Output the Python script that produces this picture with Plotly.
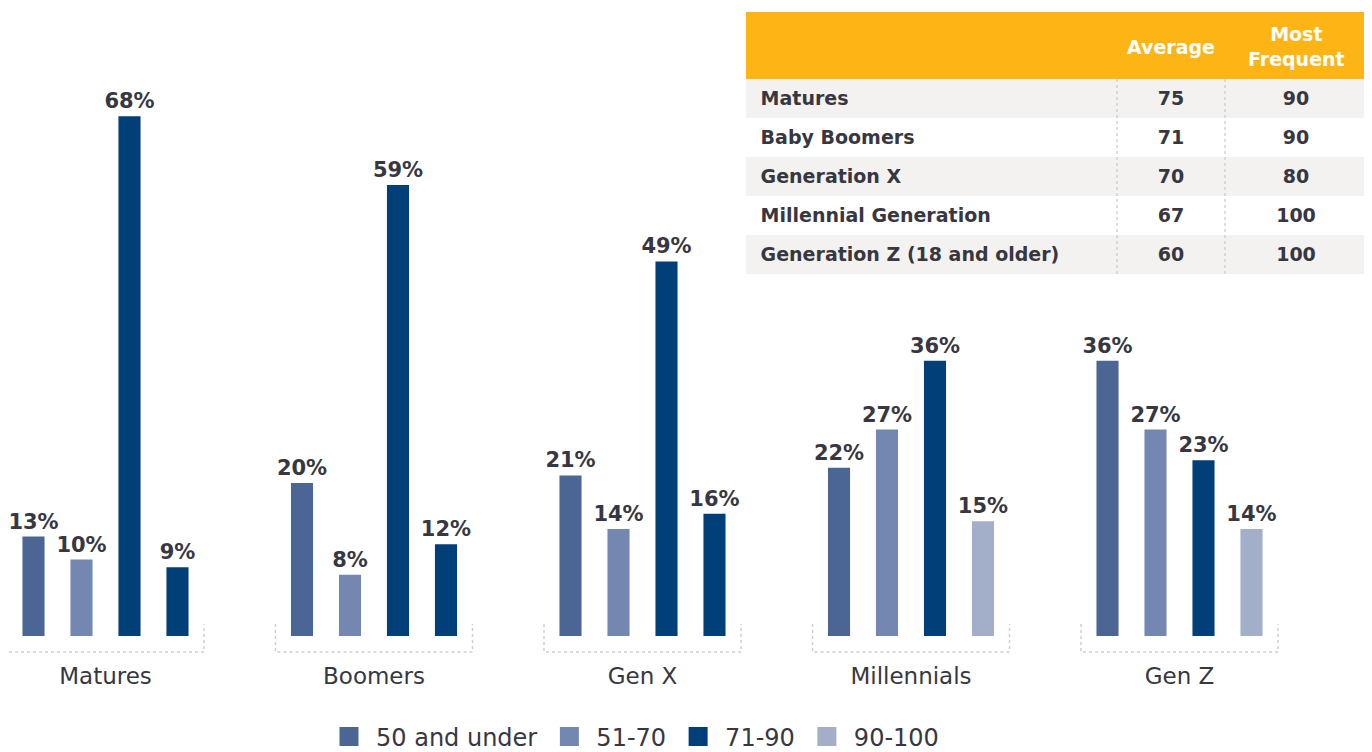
import plotly.graph_objects as go

# ---------------- data ----------------
groups = ["Matures", "Boomers", "Gen X", "Millennials", "Gen Z"]
series = ["50 and under", "51-70", "71-90", "90-100"]
v_50_under = [13, 20, 21, 22, 36]
v_51_70 = [10, 8, 14, 27, 27]
v_71_90 = [68, 59, 49, 36, 23]
v_90_100 = [9, 12, 16, 15, 14]

table_rows = ["Matures", "Baby Boomers", "Generation X",
              "Millennial Generation", "Generation Z (18 and older)"]
table_avg = [75, 71, 70, 67, 60]
table_freq = [90, 90, 80, 100, 100]
table_header = ["", "Average", "Most<br>Frequent"]

# ---------------- style ----------------
OFF = 8                      # page body margin
W, H = 1372 - OFF, 752 - OFF
C1, C2, C3, C4 = "#4b6694", "#7387b0", "#003f78", "#a3aec9"
TXT = "#373741"
FONT = "DejaVu Sans"
PX_PER_UNIT = 7.645          # pixels per percentage point
BASE_PX = 636 - OFF          # baseline pixel row
PLOT_BOTTOM = 660 - OFF
B_MARGIN = H - PLOT_BOTTOM
PLOT_H = PLOT_BOTTOM
GROUP_PX = 268.5
FIRST_CENTER_PX = 105.5 - OFF

y_top = BASE_PX / PX_PER_UNIT
y_bot = -(PLOT_BOTTOM - BASE_PX) / PX_PER_UNIT
x_left = -FIRST_CENTER_PX / GROUP_PX
x_right = (W - FIRST_CENTER_PX) / GROUP_PX

xs = list(range(len(groups)))
vals = [v_50_under, v_51_70, v_71_90, v_90_100]
colors = [C1, C2, C3, [C3, C3, C3, C4, C4]]

fig = go.Figure()
for name, v, c in zip(series, vals, colors):
    fig.add_trace(go.Bar(
        x=xs, y=v, name=name, marker=dict(color=c, line=dict(width=0)),
        texttemplate="<b>%{y}%</b>", textposition="outside",
        textfont=dict(family=FONT, size=21, color=TXT),
        constraintext="none", cliponaxis=False, showlegend=False,
        hoverinfo="skip",
    ))

legend_colors = [C1, C2, C3, C4]
for name, c in zip(series, legend_colors):
    fig.add_trace(go.Scatter(
        x=[None], y=[None], mode="markers", name=name,
        marker=dict(symbol="square", size=16, color=c,
                    line=dict(color=c, width=3)),
        showlegend=True,
    ))

# dotted brackets under each group
half_w = 98.5 / GROUP_PX
b_top = 12 / PX_PER_UNIT
b_bot = -16 / PX_PER_UNIT
for gx in xs:
    fig.add_shape(type="path",
                  path=f"M {gx-half_w},{b_top} L {gx-half_w},{b_bot} L {gx+half_w},{b_bot} L {gx+half_w},{b_top}",
                  xref="x", yref="y",
                  line=dict(color="#cfcfcf", width=1.5, dash="dot"))

# ---------------- table ----------------
tx0, tx1 = 746 - OFF, 1367 - OFF
ty0 = 12 - OFF
header_h, row_h = 67, 39
ty1 = ty0 + header_h + row_h * len(table_rows)
col_w = [371, 108, 142]

row_fill = ["#f3f2f0" if i % 2 == 0 else "#ffffff" for i in range(len(table_rows))]
fig.add_trace(go.Table(
    domain=dict(x=[tx0 / W, tx1 / W],
                y=[1 - (ty1 + 8) / PLOT_H, 1 - ty0 / PLOT_H]),
    columnwidth=col_w,
    header=dict(values=["" for _ in table_header],
                fill_color="#fdb515", height=header_h,
                line=dict(color="#fdb515", width=0),
                font=dict(family=FONT, size=19, color="white")),
    cells=dict(values=[[f"<b> {r}</b>" for r in table_rows],
                       [f"<b>{v}</b>" for v in table_avg],
                       [f"<b>{v}</b>" for v in table_freq]],
               fill_color=[row_fill] * 3, height=row_h,
               line=dict(color=[row_fill] * 3, width=0),
               align=["left", "center", "center"],
               font=dict(family=FONT, size=19, color=TXT)),
))

# header labels centred vertically in the header band
col_edges = [tx0]
for w in col_w:
    col_edges.append(col_edges[-1] + w)
for i, h in enumerate(table_header):
    if h:
        cx = (col_edges[i] + col_edges[i + 1]) / 2
        fig.add_annotation(x=cx / W, y=1 - (ty0 + header_h / 2 + 1) / PLOT_H,
                           xref="paper", yref="paper", text=f"<b>{h}</b>",
                           showarrow=False, xanchor="center", yanchor="middle",
                           font=dict(family=FONT, size=19, color="white"))

for sx in col_edges[1:3]:
    fig.add_shape(type="line", xref="paper", yref="paper",
                  x0=sx / W, x1=sx / W,
                  y0=1 - (ty0 + header_h) / PLOT_H, y1=1 - ty1 / PLOT_H,
                  line=dict(color="#c9c9c9", width=1.2, dash="dot"))

fig.update_layout(
    width=W, height=H,
    margin=dict(l=0, r=0, t=0, b=B_MARGIN, autoexpand=False),
    paper_bgcolor="white", plot_bgcolor="white",
    barmode="group", bargap=0.285, bargroupgap=0.54,
    font=dict(family=FONT, color=TXT),
    xaxis=dict(range=[x_left, x_right], tickvals=xs, ticktext=groups,
               showgrid=False, zeroline=False, showline=False, ticks="",
               tickfont=dict(family=FONT, size=23, color=TXT)),
    yaxis=dict(range=[y_bot, y_top], visible=False, showgrid=False,
               zeroline=False),
    legend=dict(orientation="h", x=(322 - OFF) / W, xanchor="left",
                y=(PLOT_BOTTOM - (737 - OFF)) / PLOT_H, yanchor="middle",
                itemwidth=44,
                font=dict(family=FONT, size=24, color=TXT),
                itemclick=False, itemdoubleclick=False),
    showlegend=True,
)

fig.write_html("out.html")
